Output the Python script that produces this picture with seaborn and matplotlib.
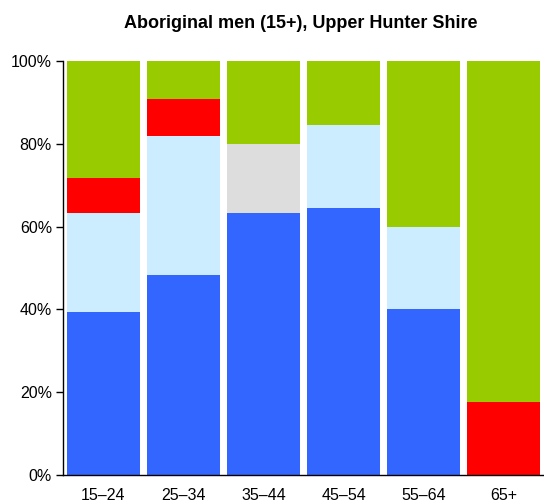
import numpy as np
import pandas as pd
import matplotlib
matplotlib.use("Agg")
import matplotlib.pyplot as plt
import seaborn as sns

# Données (pourcentages)
categories = ["15–24", "25–34", "35–44", "45–54", "55–64", "65+"]
blue = [39.3, 48.4, 63.2, 64.4, 40.0, 0.0]
light_blue = [23.9, 33.4, 0.0, 20.1, 20.0, 0.0]
grey = [0.0, 0.0, 16.7, 0.0, 0.0, 0.0]
red = [8.5, 9.0, 0.0, 0.0, 0.0, 17.7]
green = [28.3, 9.2, 20.1, 15.5, 40.0, 82.3]

layers = [blue, light_blue, grey, red, green]
colors = ["#3366FF", "#CCECFF", "#DDDDDD", "#FF0000", "#99CC00"]

sns.set_style("white")
plt.rcParams["font.family"] = ["Liberation Sans", "DejaVu Sans"]
plt.rcParams["text.color"] = "black"
plt.rcParams["xtick.color"] = "black"
plt.rcParams["ytick.color"] = "black"

fig = plt.figure(figsize=(5.44, 5.04), dpi=100)
ax = fig.add_axes([0.1158, 0.0575, 0.8842, 0.8215])

# Empiler : on dessine les cumuls du haut vers le bas
cum = np.cumsum(np.array(layers), axis=0)
cum = cum / cum[-1] * 100
for i in reversed(range(len(layers))):
    df = pd.DataFrame({"cat": categories, "val": cum[i]})
    sns.barplot(data=df, x="cat", y="val", color=colors[i], saturation=1,
                width=0.91, ax=ax, linewidth=0, edgecolor="none")

ax.set_xlim(-0.5, 5.5)
ax.set_ylim(0, 100)
ax.set_yticks([0, 20, 40, 60, 80, 100])
ax.set_yticklabels([f"{v}%" for v in [0, 20, 40, 60, 80, 100]], fontsize=11.5)
ax.set_xticks(range(6))
ax.set_xticklabels(categories, fontsize=11.5)
ax.set_xticks(np.arange(-0.5, 5.0, 1), minor=True)
ax.tick_params(axis="x", which="major", length=0, pad=9)
ax.tick_params(axis="x", which="minor", length=5, width=1, color="black", direction="out")
ax.tick_params(axis="y", length=5, width=1, color="black", direction="out", pad=3, left=True)
ax.set_xlabel("")
ax.set_ylabel("")

for s in ["top", "right"]:
    ax.spines[s].set_visible(False)
for s in ["left", "bottom"]:
    ax.spines[s].set_color("black")
    ax.spines[s].set_linewidth(1)

fig.suptitle("Aboriginal men (15+), Upper Hunter Shire", fontsize=13,
             fontweight="bold", color="black", x=0.552, y=0.97)

fig.savefig("out.png", dpi=100)
